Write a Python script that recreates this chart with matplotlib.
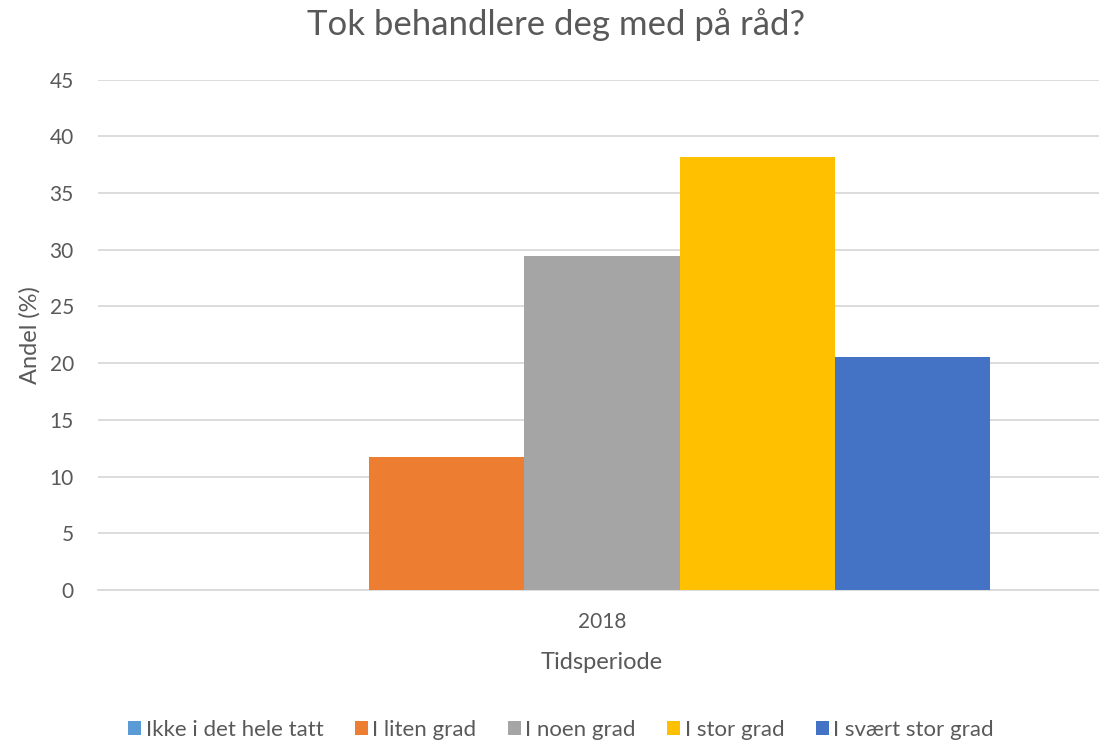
import matplotlib
matplotlib.use("Agg")
import matplotlib.pyplot as plt
from matplotlib.patches import Patch
import numpy as np

plt.rcParams['font.family'] = ['Lato', 'DejaVu Sans']

title = "Tok behandlere deg med på råd?"
categories = ["2018"]
series_names = ["Ikke i det hele tatt", "I liten grad", "I noen grad", "I stor grad", "I svært stor grad"]
series_values = [[0.0], [11.7], [29.4], [38.2], [20.5]]
colors = ["#5B9BD5", "#ED7D31", "#A5A5A5", "#FFC000", "#4472C4"]
yticks = [0, 5, 10, 15, 20, 25, 30, 35, 40, 45]
xlabel = "Tidsperiode"
ylabel = "Andel (%)"

txt = "#595959"
grid = "#D9D9D9"

fig = plt.figure(figsize=(10.99, 7.43), dpi=100)
ax_left, ax_right, ax_top, ax_bot = 97.5, 1106.5, 79.5, 590
ax = fig.add_axes([ax_left/1099, 1-ax_bot/743, (ax_right-ax_left)/1099, (ax_bot-ax_top)/743])

n = len(series_names)
w = 0.1539
x = np.arange(len(categories))
for i, (name, vals, c) in enumerate(zip(series_names, series_values, colors)):
    ax.bar(x + (i - (n-1)/2) * w, vals, width=w, color=c, label=name, zorder=3)

ax.set_xlim(-0.5, 0.5)
ax.set_ylim(0, 45)
ax.set_yticks(yticks)
ax.set_yticklabels([str(t) for t in yticks])
ax.set_xticks(x)
ax.set_xticklabels(categories)
ax.grid(axis='y', color=grid, linewidth=1.3, zorder=0)
ax.set_axisbelow(True)
for s in ['top', 'right', 'left']:
    ax.spines[s].set_visible(False)
ax.spines['bottom'].set_color(grid)
ax.spines['bottom'].set_linewidth(1.3)
ax.tick_params(axis='both', length=0, labelsize=15, colors=txt)
ax.tick_params(axis='y', pad=17)
ax.tick_params(axis='x', pad=16)

ax.set_xlabel(xlabel, fontsize=17, color=txt)
ax.xaxis.set_label_coords(0.5, -(652 - ax_bot) / (ax_bot - ax_top))
ax.xaxis.label.set_va('top')
ax.set_ylabel(ylabel, fontsize=17, color=txt)
ax.yaxis.set_label_coords(-(ax_left - 30) / (ax_right - ax_left), (ax_bot - 335) / (ax_bot - ax_top))
ax.yaxis.label.set_va('center')

fig.text(556/1099, 1-25/743, title, fontsize=25, color=txt, ha='center', va='center')

handles = [Patch(facecolor=c, edgecolor='none') for c in colors]
leg = fig.legend(handles, series_names, loc='center', bbox_to_anchor=(561/1099, 1-730/743),
                 ncol=5, frameon=False, fontsize=16, handlelength=0.6, handleheight=0.6,
                 handletextpad=0.2, columnspacing=1.4, labelcolor=txt)

fig.savefig("out.png", dpi=100)
